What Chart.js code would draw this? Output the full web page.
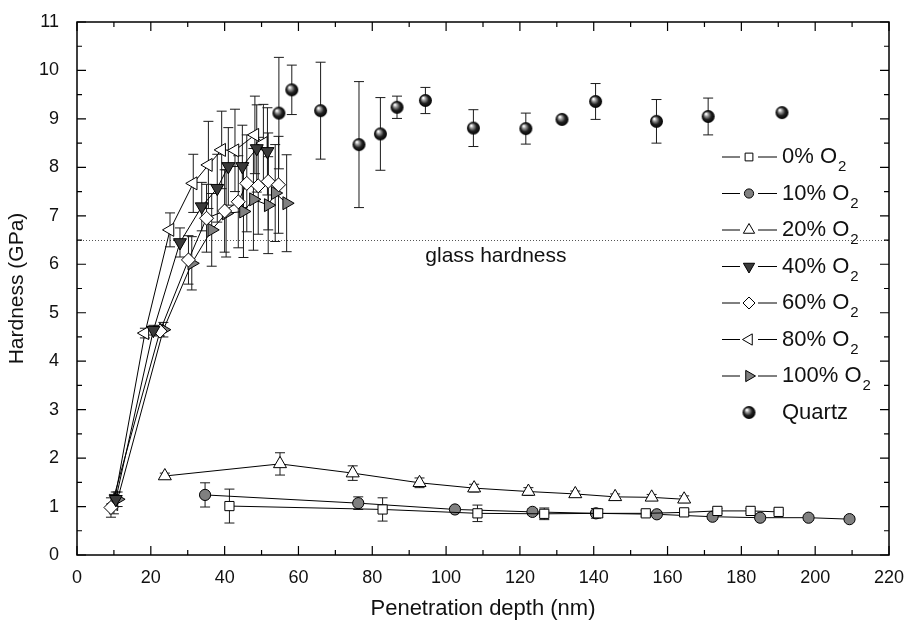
<!DOCTYPE html>
<html>
<head>
<meta charset="utf-8">
<script src="https://cdn.jsdelivr.net/npm/chart.js@4.4.0/dist/chart.umd.min.js"></script>
<style>
  body { margin: 0; background: #fff; }
  #wrap { width: 905px; height: 623px; }
</style>
</head>
<body>
<div id="wrap"><canvas id="chart"></canvas></div>
<script>
// valores (profundidade em nm, dureza em GPa, barra de erro)
const depth0 = [41.3, 82.8, 108.5, 126.6, 141.2, 154.1, 164.5, 173.5, 182.5, 190.1];
const hard0 = [1.01, 0.94, 0.86, 0.85, 0.86, 0.86, 0.88, 0.91, 0.91, 0.89];
const err0 = [0.35, 0.24, 0.17, 0.12, 0.08, 0.06, 0.06, 0.05, 0.05, 0.04];

const depth10 = [34.7, 76.2, 102.4, 123.4, 140.6, 157.1, 172.2, 185.1, 198.2, 209.3];
const hard10 = [1.24, 1.07, 0.94, 0.89, 0.86, 0.84, 0.79, 0.77, 0.77, 0.74];
const err10 = [0.25, 0.13, 0.06, 0.06, 0.1, 0.05, 0.05, 0.05, 0.05, 0.05];

const depth20 = [23.8, 55.0, 74.7, 92.8, 107.6, 122.3, 135.0, 145.8, 155.7, 164.5];
const hard20 = [1.63, 1.88, 1.69, 1.49, 1.38, 1.31, 1.26, 1.20, 1.19, 1.15];
const err20 = [0.06, 0.23, 0.15, 0.1, 0.08, 0.08, 0.06, 0.06, 0.06, 0.07];

const depth40 = [10.5, 20.7, 27.9, 33.8, 38.0, 41.0, 44.8, 48.7, 51.6];
const hard40 = [1.15, 4.64, 6.45, 7.19, 7.57, 8.02, 8.02, 8.39, 8.33];
const err40 = [0.15, 0.1, 0.3, 0.5, 0.7, 0.8, 0.85, 0.9, 0.9];

const depth60 = [9.2, 22.5, 30.2, 35.1, 40.0, 43.7, 46.0, 49.1, 51.8, 54.6];
const hard60 = [0.98, 4.62, 6.09, 6.95, 7.1, 7.29, 7.67, 7.62, 7.71, 7.64];
const err60 = [0.2, 0.1, 0.5, 0.7, 0.85, 0.95, 1.0, 1.0, 1.0, 1.0];

const depth80 = [10.0, 18.4, 25.2, 31.5, 35.6, 39.2, 42.8, 48.2, 50.5];
const hard80 = [1.05, 4.58, 6.71, 7.67, 8.05, 8.36, 8.35, 8.67, 8.5];
const err80 = [0.2, 0.1, 0.35, 0.6, 0.9, 0.8, 0.85, 0.8, 0.8];

const depth100 = [11.0, 23.4, 31.1, 36.5, 40.4, 45.1, 47.8, 51.8, 53.7, 56.8];
const hard100 = [1.15, 4.65, 6.02, 6.71, 7.05, 7.09, 7.34, 7.22, 7.47, 7.26];
const err100 = [0.15, 0.15, 0.55, 0.75, 0.9, 0.95, 1.05, 1.0, 1.0, 1.0];

const depthQ = [54.7, 58.2, 66.0, 76.4, 82.2, 86.7, 94.4, 107.4, 121.6, 131.4, 140.5, 157.0, 171.0, 191.0];
const hardQ = [9.12, 9.6, 9.17, 8.47, 8.69, 9.24, 9.38, 8.81, 8.8, 8.99, 9.36, 8.95, 9.05, 9.13];
const errQ = [1.15, 0.51, 1.0, 1.3, 0.75, 0.23, 0.27, 0.38, 0.32, 0, 0.37, 0.45, 0.38, 0];

const xTicks = [0, 20, 40, 60, 80, 100, 120, 140, 160, 180, 200, 220];
const yTicks = [0, 1, 2, 3, 4, 5, 6, 7, 8, 9, 10, 11];
const glassHardness = 6.5;
const glassLabel = 'glass hardness';
const glassLabelPos = [113.5, 6.17];

const FONT = "'Liberation Sans', Arial, sans-serif";

// esfera preta para o quartzo
function makeSphere(r) {
    const c = document.createElement('canvas');
    c.width = c.height = r * 2 + 2;
    const g = c.getContext('2d');
    const cx = r + 1, cy = r + 1;
    const grad = g.createRadialGradient(cx - r * 0.35, cy - r * 0.4, 0.5, cx, cy, r);
    grad.addColorStop(0, '#ffffff');
    grad.addColorStop(0.25, '#9a9a9a');
    grad.addColorStop(0.6, '#222222');
    grad.addColorStop(1, '#000000');
    g.fillStyle = grad;
    g.beginPath();
    g.arc(cx, cy, r, 0, Math.PI * 2);
    g.fill();
    return c;
}
const sphere = makeSphere(6.5);

function pts(xs, ys) {
    return xs.map(function (x, i) { return { x: x, y: ys[i] }; });
}

function serie(label, xs, ys, errs, style, rot, radius, fill) {
    return {
        label: label,
        data: pts(xs, ys),
        errs: errs,
        showLine: true,
        borderColor: '#000',
        borderWidth: 1,
        pointStyle: style,
        pointRotation: rot,
        pointRadius: radius,
        pointBackgroundColor: fill,
        pointBorderColor: '#000',
        pointBorderWidth: 1
    };
}

const datasets = [
    serie('0%', depth0, hard0, err0, 'rect', 0, 6.5, '#ffffff'),
    serie('10%', depth10, hard10, err10, 'circle', 0, 5.6, '#808080'),
    serie('20%', depth20, hard20, err20, 'triangle', 0, 7.5, '#ffffff'),
    serie('40%', depth40, hard40, err40, 'triangle', 180, 7.5, '#3a3a3a'),
    serie('60%', depth60, hard60, err60, 'rectRot', 0, 7, '#ffffff'),
    serie('80%', depth80, hard80, err80, 'triangle', 270, 7.5, '#ffffff'),
    serie('100%', depth100, hard100, err100, 'triangle', 90, 7.5, '#808080'),
    {
        label: 'Quartz',
        data: pts(depthQ, hardQ),
        errs: errQ,
        showLine: false,
        pointStyle: sphere,
        pointRadius: 6.5
    }
];

const extras = {
    id: 'extras',
    beforeDatasetsDraw(chart) {
        const ctx = chart.ctx, xs = chart.scales.x, ys = chart.scales.y, a = chart.chartArea;
        ctx.save();
        // linha pontilhada da dureza do vidro
        ctx.strokeStyle = '#555';
        ctx.lineWidth = 1;
        ctx.setLineDash([1, 2]);
        const gy = Math.round(ys.getPixelForValue(glassHardness)) + 0.5;
        ctx.beginPath();
        ctx.moveTo(a.left, gy);
        ctx.lineTo(a.right, gy);
        ctx.stroke();
        ctx.setLineDash([]);
        // barras de erro
        chart.data.datasets.forEach(function (ds) {
            ctx.strokeStyle = '#1a1a1a';
            ctx.lineWidth = 1;
            ds.data.forEach(function (p, i) {
                const e = ds.errs[i];
                if (!e) return;
                const px = xs.getPixelForValue(p.x);
                const y1 = ys.getPixelForValue(p.y + e);
                const y2 = ys.getPixelForValue(p.y - e);
                ctx.beginPath();
                ctx.moveTo(px, y1); ctx.lineTo(px, y2);
                ctx.moveTo(px - 5, y1); ctx.lineTo(px + 5, y1);
                ctx.moveTo(px - 5, y2); ctx.lineTo(px + 5, y2);
                ctx.stroke();
            });
        });
        ctx.restore();
    },
    afterDatasetsDraw(chart) {
        const ctx = chart.ctx, xs = chart.scales.x, ys = chart.scales.y, a = chart.chartArea;
        ctx.save();
        // moldura e marcas para dentro
        ctx.strokeStyle = '#000';
        ctx.lineWidth = 1.5;
        ctx.strokeRect(a.left, a.top, a.right - a.left, a.bottom - a.top);
        ctx.lineWidth = 1.2;
        ctx.beginPath();
        for (let v = 0; v <= 220; v += 10) {
            const px = xs.getPixelForValue(v);
            const len = v % 20 === 0 ? 9 : 5;
            ctx.moveTo(px, a.bottom); ctx.lineTo(px, a.bottom - len);
            ctx.moveTo(px, a.top); ctx.lineTo(px, a.top + len);
        }
        for (let v = 0; v <= 11; v += 0.5) {
            const py = ys.getPixelForValue(v);
            const len = v % 1 === 0 ? 9 : 5;
            ctx.moveTo(a.left, py); ctx.lineTo(a.left + len, py);
            ctx.moveTo(a.right, py); ctx.lineTo(a.right - len, py);
        }
        ctx.stroke();

        // texto da linha do vidro
        ctx.fillStyle = '#111';
        ctx.font = '21px ' + FONT;
        ctx.textAlign = 'center';
        ctx.textBaseline = 'middle';
        ctx.fillText(glassLabel, xs.getPixelForValue(glassLabelPos[0]), ys.getPixelForValue(glassLabelPos[1]));

        // legenda
        const lx1 = 722, lx2 = 777, mx = 749, tx = 782;
        chart.data.datasets.forEach(function (ds, i) {
            const y = 157 + i * 36.5;
            if (ds.showLine) {
                ctx.strokeStyle = '#000';
                ctx.lineWidth = 1;
                ctx.beginPath();
                ctx.moveTo(lx1, y); ctx.lineTo(mx - 9, y);
                ctx.moveTo(mx + 9, y); ctx.lineTo(lx2, y);
                ctx.stroke();
                ctx.fillStyle = ds.pointBackgroundColor;
                ctx.strokeStyle = '#000';
                Chart.helpers.drawPoint(ctx, {
                    pointStyle: ds.pointStyle,
                    rotation: ds.pointRotation,
                    radius: ds.pointRadius - 1,
                    borderWidth: 1
                }, mx, y);
            } else {
                ctx.drawImage(sphere, mx - sphere.width / 2, y - sphere.height / 2);
            }
            ctx.fillStyle = '#111';
            ctx.textAlign = 'left';
            ctx.textBaseline = 'middle';
            ctx.font = '22px ' + FONT;
            if (ds.showLine) {
                const t = ds.label + ' O';
                ctx.fillText(t, tx, y);
                const w = ctx.measureText(t).width;
                ctx.font = '15px ' + FONT;
                ctx.fillText('2', tx + w + 1, y + 10);
            } else {
                ctx.fillText(ds.label, tx, y);
            }
        });
        ctx.restore();
    }
};

new Chart(document.getElementById('chart'), {
    type: 'scatter',
    data: { datasets: datasets },
    options: {
        responsive: true,
        maintainAspectRatio: false,
        animation: false,
        layout: { padding: { top: 22, right: 16, left: 0, bottom: 0 } },
        plugins: {
            legend: { display: false },
            tooltip: { enabled: false }
        },
        scales: {
            x: {
                type: 'linear',
                min: 0,
                max: 220,
                afterBuildTicks: function (s) { s.ticks = xTicks.map(function (v) { return { value: v }; }); },
                afterFit: function (s) { s.height = 68; s.paddingLeft = 0; s.paddingRight = 0; },
                grid: { display: false, drawTicks: false },
                border: { display: false },
                ticks: { padding: 12, color: '#111', font: { family: FONT, size: 18 }, maxRotation: 0 },
                title: { display: true, text: 'Penetration depth (nm)', color: '#111', font: { family: FONT, size: 22 }, padding: { top: 0, bottom: 1 } }
            },
            y: {
                type: 'linear',
                min: 0,
                max: 11,
                afterBuildTicks: function (s) { s.ticks = yTicks.map(function (v) { return { value: v }; }); },
                afterFit: function (s) { s.width = 77; s.paddingTop = 0; s.paddingBottom = 0; },
                grid: { display: false, drawTicks: false },
                border: { display: false },
                ticks: { padding: 18, color: '#111', font: { family: FONT, size: 18 } },
                title: { display: true, text: 'Hardness (GPa)', color: '#111', font: { family: FONT, size: 21 }, padding: { top: 5, bottom: 0 } }
            }
        }
    },
    plugins: [extras]
});
</script>
</body>
</html>
